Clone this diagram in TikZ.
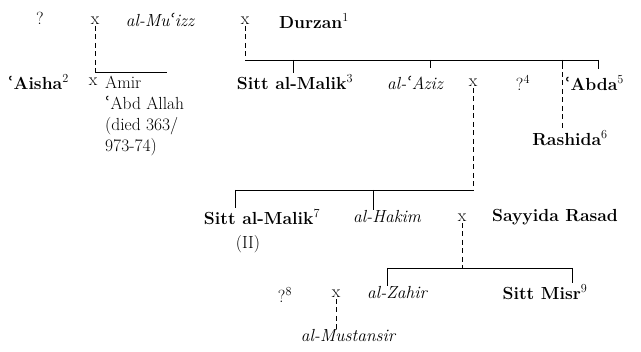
\documentclass[tikz,border=0pt]{standalone}
\usepackage{fontspec}
\newfontfamily\aynfont{DejaVu Serif}
\newcommand{\ayn}{{\aynfont ʿ}}
\newcommand{\fn}[1]{\textsuperscript{\mdseries#1}}
\begin{document}
\fontsize{17.5}{21}\selectfont
\begin{tikzpicture}[x=1pt,y=-1pt,
                    desc/.style={line width=1pt,dash pattern=on 5pt off 3.5pt},
                    bar/.style={line width=.6pt},
                    who/.style={font=\bfseries},
                    ruler/.style={font=\itshape},
                    every node/.style={inner sep=1pt}]
 \path[use as bounding box] (0,0) rectangle (641,352);
 % first row
 \node (q1) at (40,18) {?};
 \node (x1) at (95,21) {x};
 \node[ruler] (muizz) at (160,20) {al-Mu\ayn izz};
 \node (x2) at (245,21) {x};
 \node[who] (durzan) at (314,21) {Durzan\fn{1}};
 % second row
 \node[who] (aisha) at (38,82) {\ayn Aisha\fn{2}};
 \node (x3) at (93,82) {x};
 \node[anchor=north west,align=left] (amir) at (104,75) {Amir\\\ayn Abd Allah\\(died 363/\\973-74)};
 \node[who] (sitt1) at (295,82) {Sitt al-Malik\fn{3}};
 \node[ruler] (aziz) at (415,83) {al-\ayn Aziz};
 \node (x4) at (473,83) {x};
 \node (q4) at (523,83) {?\fn{4}};
 \node[who] (abda) at (594,83) {\ayn Abda\fn{5}};
 \node[who] (rashida) at (570,138) {Rashida\fn{6}};
 % third row
 \node[who] (sitt2) at (262,217) {Sitt al-Malik\fn{7}};
 \node (sitt2b) at (248,244) {(II)};
 \node[ruler] (hakim) at (387,217) {al-Hakim};
 \node (x5) at (462,218) {x};
 \node[who] (sayyida) at (555,217) {Sayyida Rasad};
 % fourth row
 \node (q8) at (285,295) {?\fn{8}};
 \node (x6) at (336,294) {x};
 \node[ruler] (zahir) at (397,293) {al-Zahir};
 \node[who] (misr) at (545,292) {Sitt Misr\fn{9}};
 \node[ruler] (mustansir) at (348,336) {al-Mustansir};
 % junctions
 \coordinate (j1) at (95,72);
 \coordinate (j1e) at (167,72);
 \coordinate (j2) at (245,60);
 \coordinate (j2e) at (598,60);
 \coordinate (t2a) at (293,60);
 \coordinate (t2b) at (430,60);
 \coordinate (t2c) at (562,60);
 \coordinate (j3) at (473,190);
 \coordinate (j3w) at (235,190);
 \coordinate (t3) at (373,190);
 \coordinate (j4) at (462,268);
 \coordinate (j4w) at (387,268);
 \coordinate (j4e) at (572,268);
 % lines of descent
 \draw[desc] (x1) -- (j1);
 \draw[bar] (j1) -- (j1e);
 \draw[desc] (x2) -- (j2);
 \draw[bar] (j2) -- (j2e);
 \draw[bar] (t2a) -- (t2a |- sitt1.north);
 \draw[bar] (t2b) -- ++(0,8);
 \draw[bar] (t2c) -- ++(0,9);
 \draw[bar] (j2e) -- ++(0,9);
 \draw[desc] ([yshift=-12pt]t2c) -- (t2c |- rashida.north);
 \draw[desc] (x4) -- (j3);
 \draw[bar] (j3w) -- (j3);
 \draw[bar] (j3w) -- (j3w |- sitt2.north);
 \draw[bar] (t3) -- (t3 |- hakim.north);
 \draw[desc] (x5) -- (j4);
 \draw[bar] (j4w) -- (j4e);
 \draw[bar] (j4w) -- (j4w |- zahir.north);
 \draw[bar] (j4e) -- (j4e |- misr.north);
 \draw[desc] (x6) -- (x6 |- mustansir.north);
\end{tikzpicture}
\end{document}
